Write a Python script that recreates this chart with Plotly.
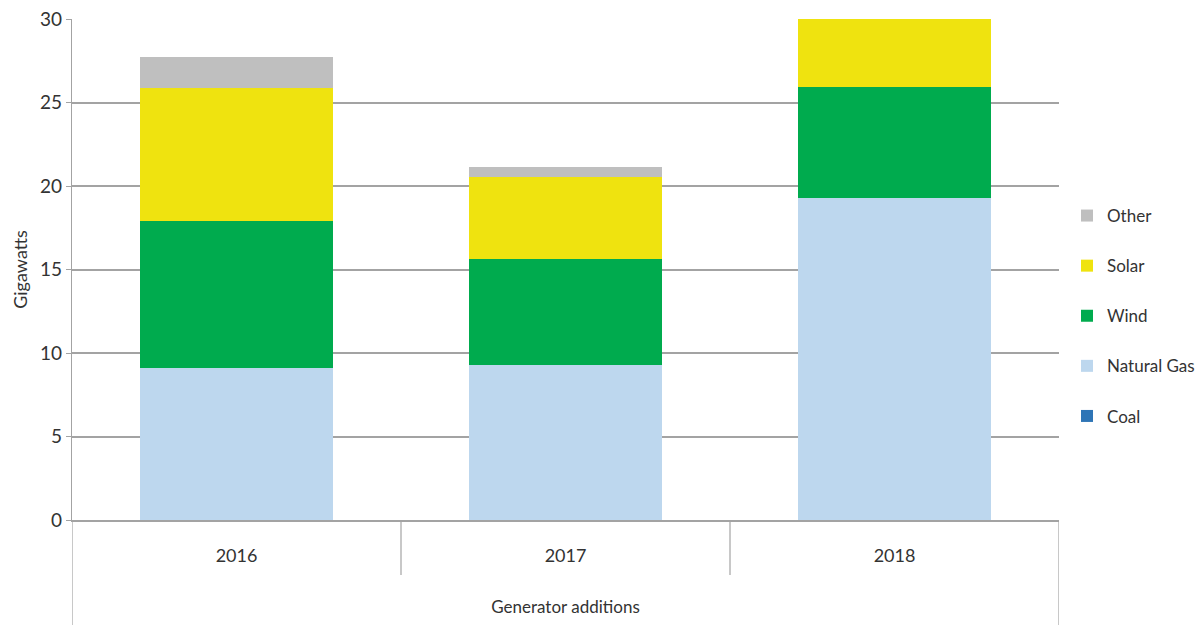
import plotly.graph_objects as go

# Generator capacity additions by fuel (GW)
years = ["2016", "2017", "2018"]
coal = [0.0, 0.0, 0.0]
natural_gas = [9.1, 9.3, 19.3]
wind = [8.8, 6.35, 6.6]
solar = [7.95, 4.9, 4.4]
other = [1.85, 0.6, 0.0]

y_ticks = [0, 5, 10, 15, 20, 25, 30]

# Stacked bottom to top; legend lists them top to bottom
series = [
    ("Coal", coal, "#2E75B6"),
    ("Natural Gas", natural_gas, "#BDD7EE"),
    ("Wind", wind, "#00AB4E"),
    ("Solar", solar, "#EFE30F"),
    ("Other", other, "#BFBFBF"),
]

FONT = "Lato"
TEXT = "#333333"
GRID = "#a3a3a3"

fig = go.Figure()
for idx, (name, vals, color) in enumerate(series):
    fig.add_trace(go.Bar(
        x=years, y=vals, name=name, legendgroup=name,
        legendrank=len(series) - idx,
        marker=dict(color=color, line=dict(width=0)),
    ))

# Category separators below the axis, plus the outer frame edges
shapes = []
n = len(years)
for i in range(1, n):
    shapes.append(dict(type="line", xref="x", yref="paper",
                       x0=i - 0.5, x1=i - 0.5, y0=0, y1=-55 / 501,
                       line=dict(color=GRID, width=1.2)))
for edge in (-0.5, n - 0.5):
    shapes.append(dict(type="line", xref="x", yref="paper",
                       x0=edge, x1=edge, y0=0, y1=-105 / 501,
                       line=dict(color=GRID, width=1.2)))

fig.update_layout(
    width=1200, height=625,
    margin=dict(l=72, r=141, t=19, b=105, autoexpand=False),
    barmode="stack",
    bargap=0.416,
    plot_bgcolor="white",
    paper_bgcolor="white",
    font=dict(family=FONT, color=TEXT),
    showlegend=True,
    legend=dict(
        xref="container", yref="container",
        x=1067 / 1200, xanchor="left", y=1 - 198 / 625, yanchor="top",
        traceorder="grouped", tracegroupgap=25,
        font=dict(family=FONT, size=17, color=TEXT),
        bgcolor="rgba(0,0,0,0)",
    ),
    shapes=shapes,
    xaxis=dict(
        automargin=False,
        showgrid=False, showline=True, linecolor=GRID, linewidth=1.5,
        ticks="", tickfont=dict(family=FONT, size=18, color=TEXT),
        ticklabelstandoff=19,
        title=dict(text="Generator additions",
                   font=dict(family=FONT, size=17, color=TEXT), standoff=36),
        range=[-0.5, n - 0.5],
    ),
    yaxis=dict(
        automargin=False,
        range=[0, 30], tickvals=y_ticks,
        showgrid=True, gridcolor=GRID, gridwidth=1.5,
        zeroline=False,
        showline=True, linecolor=GRID, linewidth=1.2,
        ticks="outside", ticklen=5, tickcolor=GRID,
        tickfont=dict(family=FONT, size=19, color=TEXT),
        title=dict(text="Gigawatts", font=dict(family=FONT, size=18, color=TEXT),
                   standoff=7),
    ),
)

fig.write_html("out.html")
